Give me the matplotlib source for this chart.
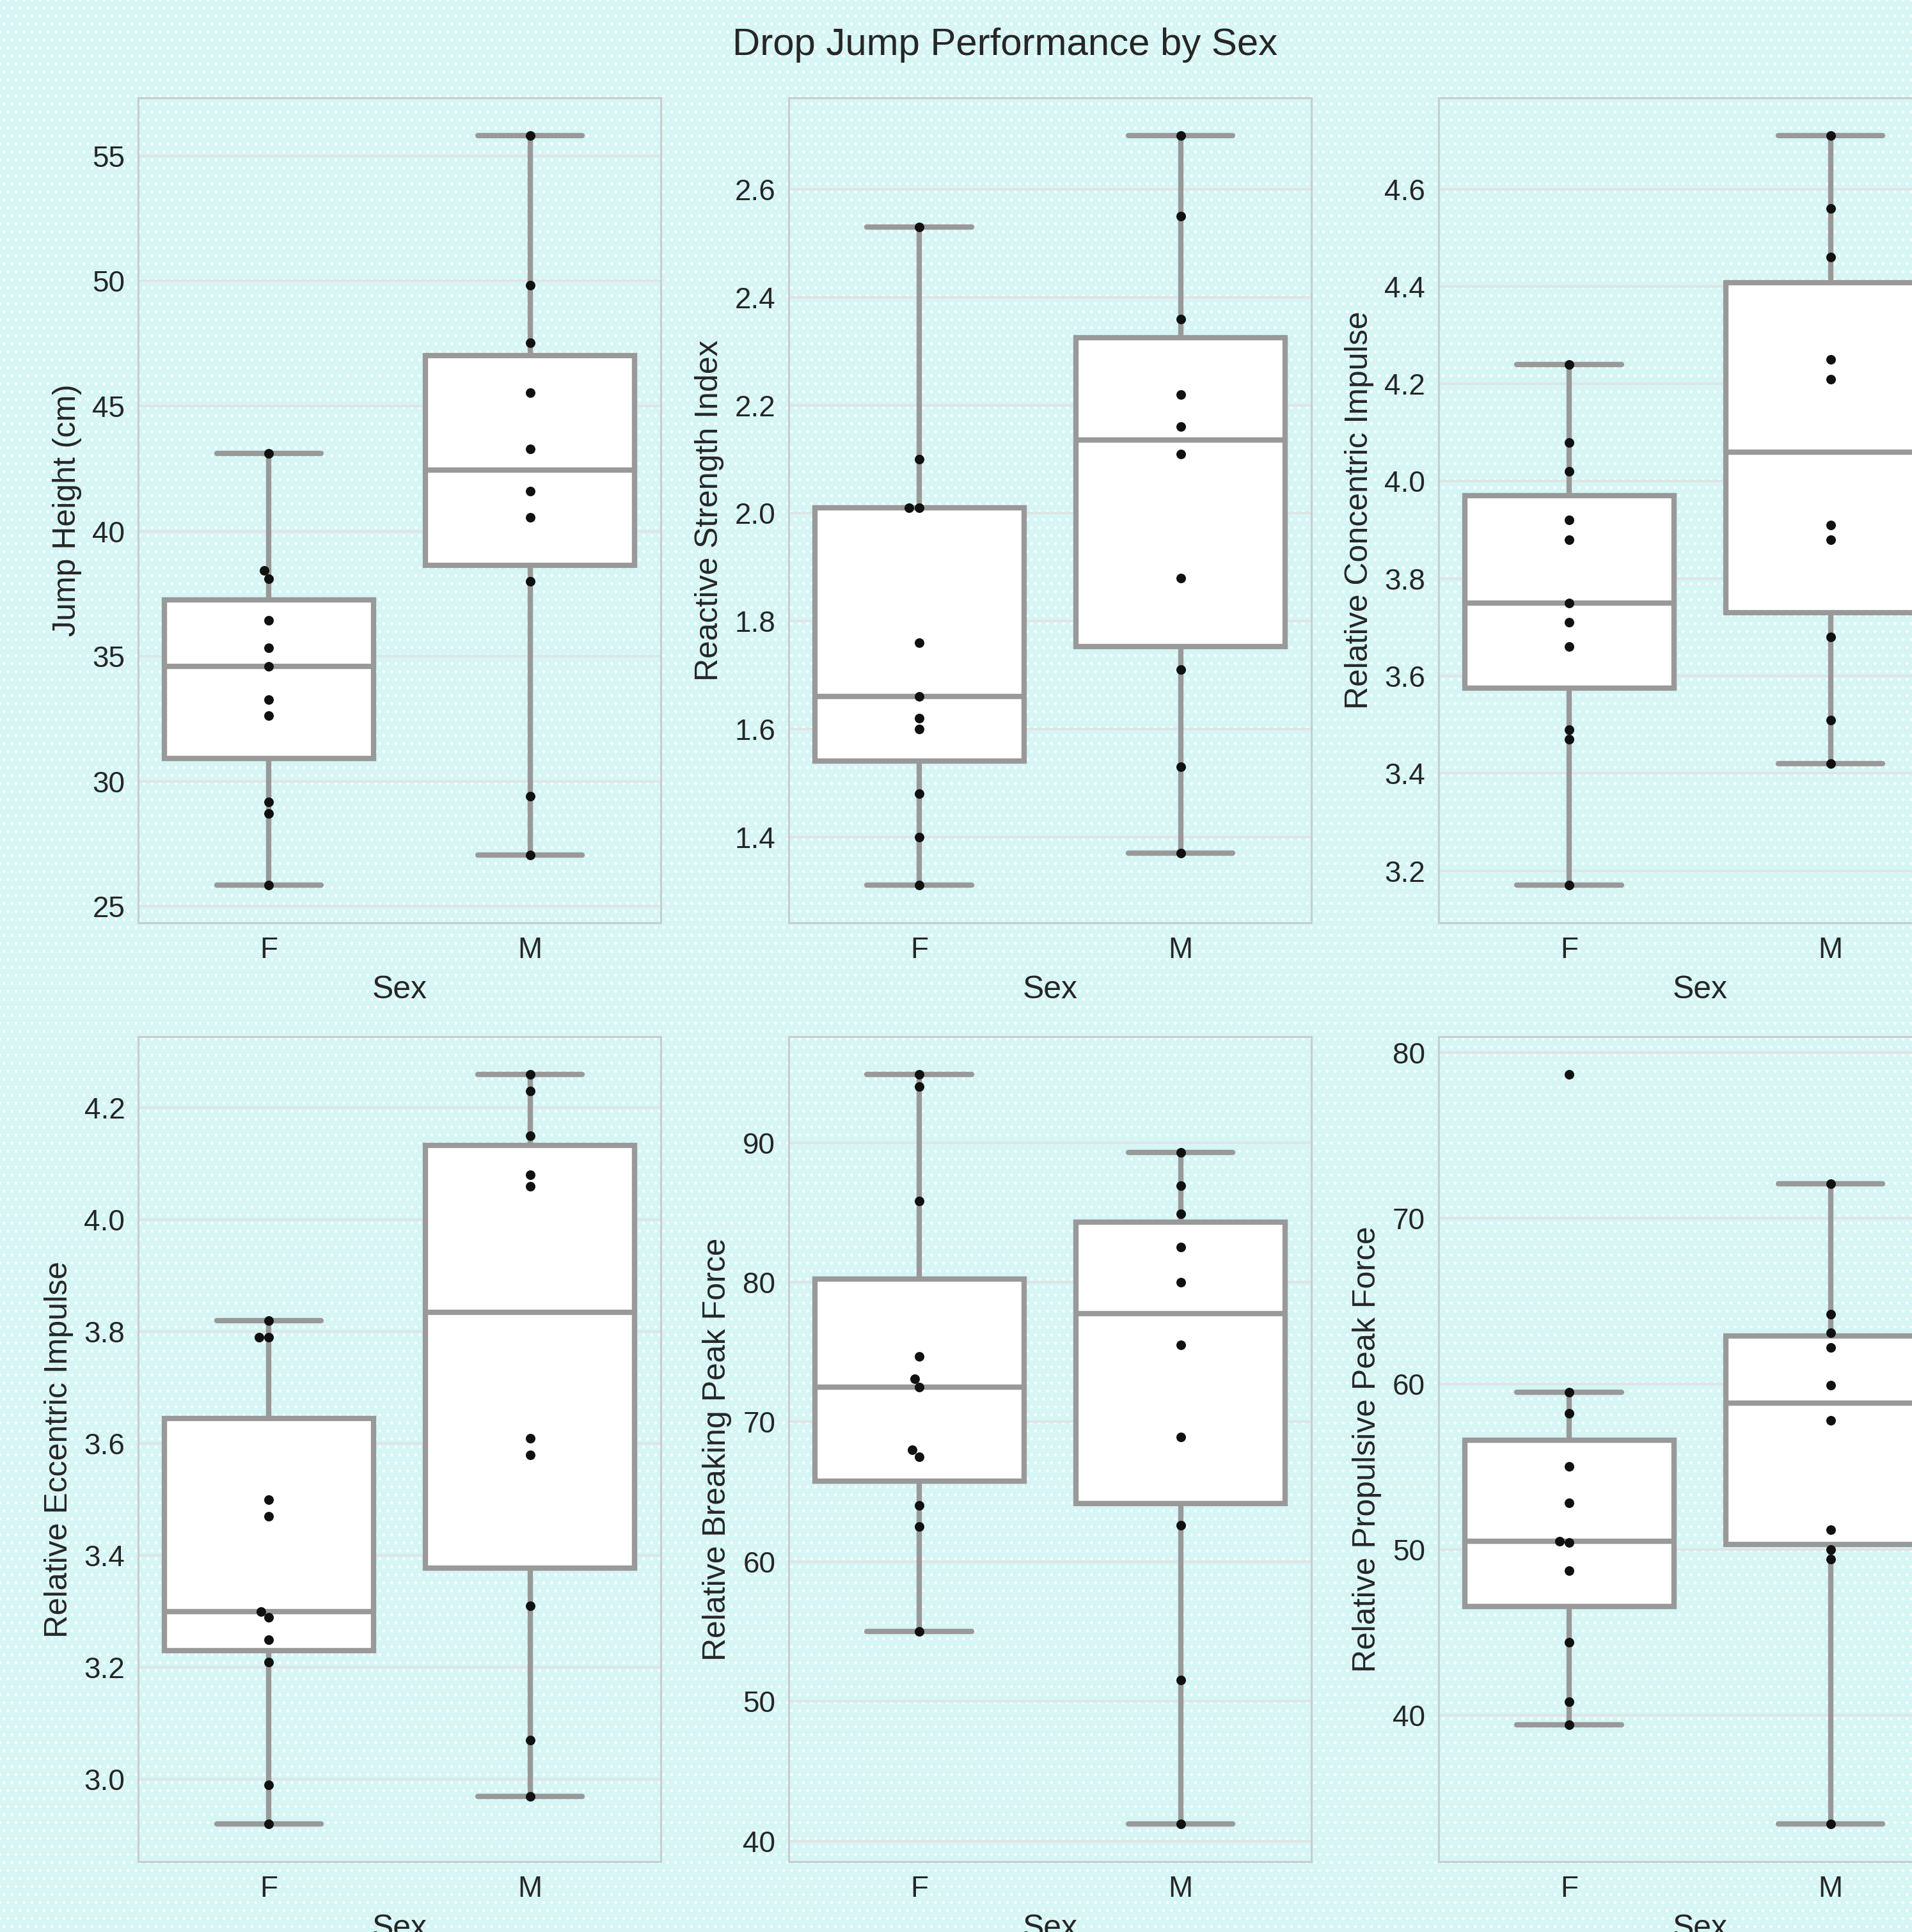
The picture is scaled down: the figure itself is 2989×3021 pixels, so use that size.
import numpy as np
import matplotlib
matplotlib.use('Agg')
import matplotlib.pyplot as plt
import seaborn as sns
from matplotlib.ticker import MultipleLocator

# ---------------------------------------------------------------- data
sexes = ['F', 'M']

jump_height_f = [43.11, 38.43, 38.09, 36.44, 35.34, 34.60, 33.27, 32.63, 29.18, 28.71, 25.84]
jump_height_m = [55.82, 49.82, 47.52, 45.55, 43.28, 41.59, 40.55, 37.99, 29.41, 27.06]

rsi_f = [2.53, 2.10, 2.01, 2.01, 1.76, 1.66, 1.62, 1.60, 1.48, 1.40, 1.31]
rsi_m = [2.70, 2.55, 2.36, 2.22, 2.16, 2.11, 1.88, 1.71, 1.53, 1.37]

conc_impulse_f = [4.24, 4.08, 4.02, 3.92, 3.88, 3.75, 3.71, 3.66, 3.49, 3.47, 3.17]
conc_impulse_m = [4.71, 4.56, 4.46, 4.25, 4.21, 3.91, 3.88, 3.68, 3.51, 3.42]

ecc_impulse_f = [3.82, 3.79, 3.79, 3.50, 3.47, 3.30, 3.29, 3.25, 3.21, 2.99, 2.92]
ecc_impulse_m = [4.26, 4.23, 4.15, 4.08, 4.06, 3.61, 3.58, 3.31, 3.07, 2.97]

braking_force_f = [94.9, 94.0, 85.8, 74.7, 73.1, 72.5, 68.0, 67.5, 64.0, 62.5, 55.0]
braking_force_m = [89.3, 86.9, 84.9, 82.5, 80.0, 75.5, 68.9, 62.6, 51.5, 41.2]

propulsive_force_f = [78.7, 59.5, 58.2, 55.0, 52.8, 50.5, 50.4, 48.7, 44.4, 40.8, 39.4]
propulsive_force_m = [72.1, 64.2, 63.1, 62.2, 59.9, 57.8, 51.2, 50.0, 49.4, 33.4]

metric_labels = ['Jump Height (cm)', 'Reactive Strength Index', 'Relative Concentric Impulse',
                 'Relative Eccentric Impulse', 'Relative Breaking Peak Force',
                 'Relative Propulsive Peak Force']
metric_f = [jump_height_f, rsi_f, conc_impulse_f, ecc_impulse_f, braking_force_f, propulsive_force_f]
metric_m = [jump_height_m, rsi_m, conc_impulse_m, ecc_impulse_m, braking_force_m, propulsive_force_m]

# ---------------------------------------------------------------- style
bg = '#d6f5f5'
line_gray = '#999999'
text_col = '#262626'
tick_steps = [5, 0.2, 0.2, 0.2, 10, 10]

plt.rcParams['font.family'] = ['Liberation Sans', 'DejaVu Sans']
plt.rcParams.update({
    'font.size': 12,
    'axes.labelsize': 12,
    'xtick.labelsize': 11,
    'ytick.labelsize': 11,
    'text.color': text_col,
    'axes.labelcolor': text_col,
    'xtick.color': text_col,
    'ytick.color': text_col,
    'xtick.major.size': 0,
    'ytick.major.size': 0,
    'xtick.major.pad': 5,
    'ytick.major.pad': 5,
    'hatch.color': 'white',
    'hatch.linewidth': 0.5,
})

fig = plt.figure(figsize=(2989 / 300, 3021 / 300), dpi=300)
fig.patch.set_facecolor(bg)
fig.patch.set_edgecolor('white')
fig.patch.set_hatch('....')

col_left = [0.0723, 0.4125, 0.7524]
row_bottom = [0.5223, 0.0364]
ax_w, ax_h = 0.2733, 0.4270

for i, label in enumerate(metric_labels):
    ax = fig.add_axes([col_left[i % 3], row_bottom[i // 3], ax_w, ax_h])
    ax.set_facecolor('none')

    x = ['F'] * len(metric_f[i]) + ['M'] * len(metric_m[i])
    y = list(metric_f[i]) + list(metric_m[i])

    sns.boxplot(x=x, y=y, order=sexes, ax=ax, color='white', linecolor=line_gray,
                linewidth=2, width=0.8, showfliers=False,
                capprops={'solid_capstyle': 'round'},
                whiskerprops={'solid_capstyle': 'butt'})
    sns.swarmplot(x=x, y=y, order=sexes, ax=ax, color='#111111', size=3.6, zorder=4)

    ax.yaxis.set_major_locator(MultipleLocator(tick_steps[i]))
    ax.yaxis.grid(True, color='#dfe4e4', linewidth=0.9)
    ax.xaxis.grid(False)
    ax.set_axisbelow(True)
    for sp in ax.spines.values():
        sp.set_visible(True)
        sp.set_color('#c6cdcd')
        sp.set_linewidth(0.7)
    ax.set_xlabel('Sex')
    ax.set_ylabel(label)

fig.suptitle('Drop Jump Performance by Sex', x=0.5256, y=0.9765, va='center',
             fontsize='large', color=text_col)

fig.savefig('out.png', dpi=300)
